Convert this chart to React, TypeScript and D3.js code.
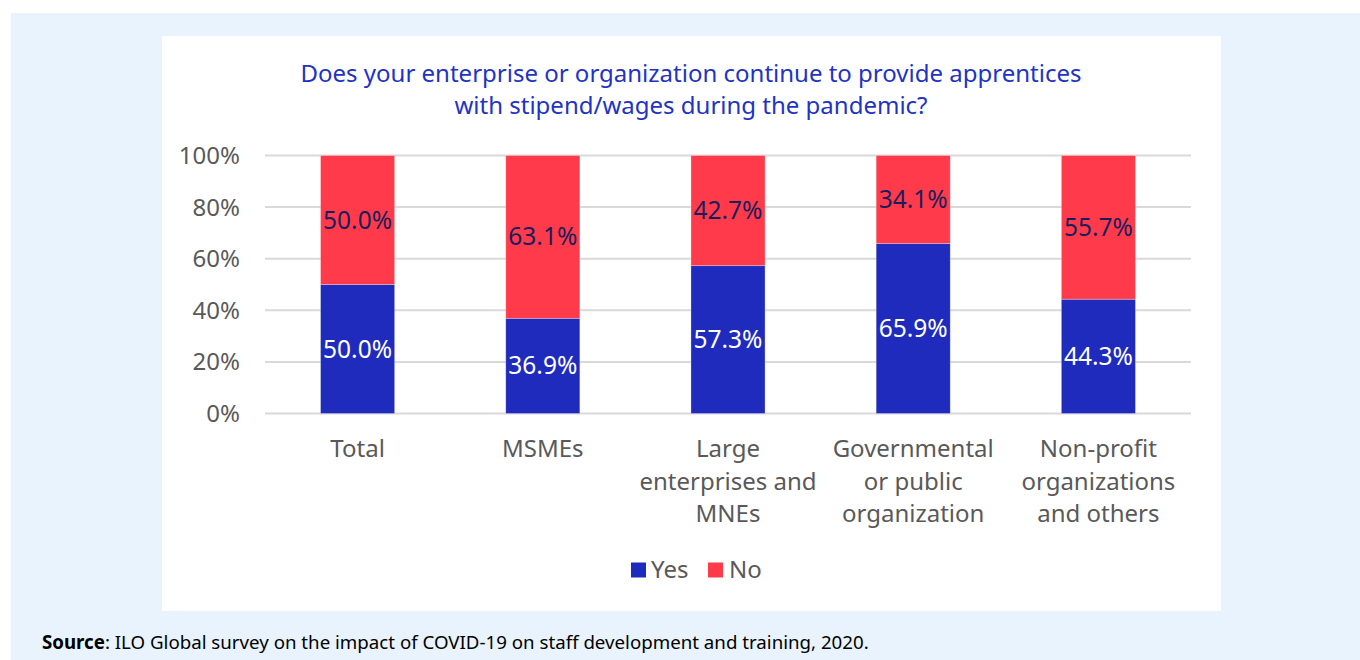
import React from "react";
import * as d3 from "d3";

const categories: string[][] = [
  ["Total"],
  ["MSMEs"],
  ["Large", "enterprises and", "MNEs"],
  ["Governmental", "or public", "organization"],
  ["Non-profit", "organizations", "and others"],
];
const yesValues = [50.0, 36.9, 57.3, 65.9, 44.3];
const noValues = [50.0, 63.1, 42.7, 34.1, 55.7];
const yTicks = [0, 20, 40, 60, 80, 100];
const seriesNames = ["Yes", "No"];
const titleLines = [
  "Does your enterprise or organization continue to provide apprentices",
  "with stipend/wages during the pandemic?",
];

const BLUE = "#1f2bbd";
const RED = "#ff3b4b";
const FONT = "'Noto Sans', 'Open Sans', sans-serif";

export default function App() {
  const W = 1360, H = 660;
  const plotL = 265, plotR = 1191, plotT = 155.5, plotB = 413.5;
  const x = d3.scaleBand<number>().domain(d3.range(categories.length)).range([plotL, plotR]).paddingInner(0.6).paddingOuter(0.3);
  const y = d3.scaleLinear().domain([0, 100]).range([plotB, plotT]);
  const bw = x.bandwidth();

  return (
    <svg width={W} height={H} style={{ position: "absolute", left: 0, top: 0, display: "block" }} fontFamily={FONT}>
      <rect x={0} y={0} width={W} height={H} fill="#ffffff" />
      <rect x={11} y={13} width={W - 11} height={H - 13} fill="#e9f3fd" />
      <rect x={162} y={36} width={1059} height={575} fill="#ffffff" />
      {titleLines.map((t, i) => (
        <text key={i} x={691} y={82 + i * 32} textAnchor="middle" fontSize={24} fill="#2233c4">{t}</text>
      ))}
      {yTicks.map((t) => (
        <g key={t}>
          <line x1={plotL} x2={plotR} y1={y(t)} y2={y(t)} stroke="#d9d9d9" strokeWidth={2} />
          <text x={240} y={y(t)} dy="0.35em" textAnchor="end" fontSize={24} fill="#595959">{t}%</text>
        </g>
      ))}
      {categories.map((c, i) => {
        const x0 = x(i)!;
        const yes = yesValues[i];
        const no = noValues[i];
        return (
          <g key={i}>
            <rect x={x0} y={y(yes)} width={bw} height={y(0) - y(yes)} fill={BLUE} stroke="#ffffff" strokeOpacity={0.35} strokeWidth={0.8} />
            <rect x={x0} y={y(yes + no)} width={bw} height={y(yes) - y(yes + no)} fill={RED} stroke="#ffffff" strokeOpacity={0.35} strokeWidth={0.8} />
            <text x={x0 + bw / 2} y={(y(0) + y(yes)) / 2} dy="0.35em" textAnchor="middle" fontSize={24.5} fill="#ffffff">{yes.toFixed(1)}%</text>
            <text x={x0 + bw / 2} y={(y(yes) + y(yes + no)) / 2} dy="0.35em" textAnchor="middle" fontSize={24.5} fill="#1a1d5c">{no.toFixed(1)}%</text>
            {c.map((line, j) => (
              <text key={j} x={x0 + bw / 2} y={449 + j * 32.5} dy="0.35em" textAnchor="middle" fontSize={24} fill="#595959">{line}</text>
            ))}
          </g>
        );
      })}
      <g>
        <rect x={631} y={562.5} width={15} height={15} fill={BLUE} />
        <text x={651} y={570} dy="0.35em" fontSize={24} fill="#595959">{seriesNames[0]}</text>
        <rect x={708} y={562.5} width={15} height={15} fill={RED} />
        <text x={729} y={570} dy="0.35em" fontSize={24} fill="#595959">{seriesNames[1]}</text>
      </g>
      <text x={42} y={642} dy="0.35em" fontSize={18.7} fill="#000000">
        <tspan fontWeight="bold">Source</tspan>: ILO Global survey on the impact of COVID-19 on staff development and training, 2020.
      </text>
    </svg>
  );
}
